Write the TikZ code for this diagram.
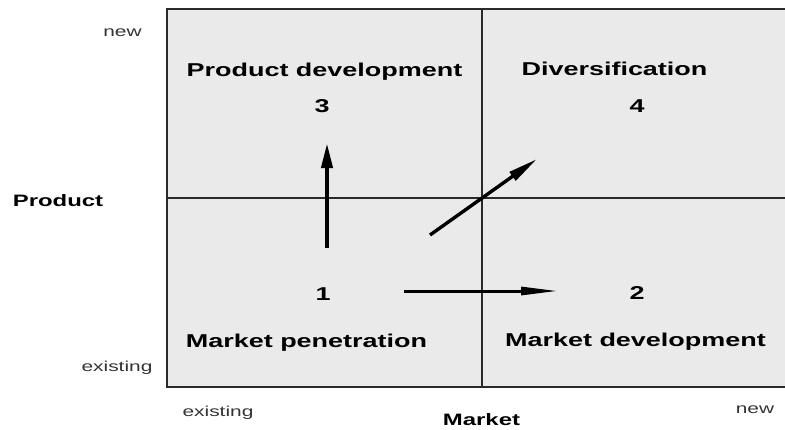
\documentclass[tikz,border=0pt]{standalone}
\usepackage{fontspec}
\setmainfont{Liberation Sans}
\newfontfamily\wf[FakeStretch=1.45]{Liberation Sans}
\usetikzlibrary{arrows.meta}
\definecolor{quad}{HTML}{EAEAEA}
\definecolor{linec}{HTML}{2A2A2A}
\begin{document}
\begin{tikzpicture}[x=1pt,y=-1pt,
  big/.style={font=\wf\bfseries\fontsize{18.6}{20}\selectfont, inner sep=0pt, anchor=base, text=black},
  mid/.style={font=\wf\bfseries\fontsize{16.5}{18}\selectfont, inner sep=0pt, anchor=base, text=black},
  small/.style={font=\wf\fontsize{14.4}{16}\selectfont, inner sep=0pt, anchor=base, text=black!80},
  gridline/.style={draw=linec, line width=1.4pt},
  shaft/.style={line width=3.4pt, draw=black}]
\useasboundingbox (0,0) rectangle (785,429);
\fill[white] (0,0) rectangle (785,429);
% grid
\fill[quad] (167,9) rectangle (790,387);
\draw[gridline, line width=1.8pt] (790,9) -- (167,9) -- (167,387) -- (790,387);
\draw[gridline] (482,9) -- (482,387);
\draw[gridline] (167,198) -- (790,198);
% quadrant labels
\node[big] (pd) at (324.5,76) {Product development};
\node[big] (n3) at (322,112) {3};
\node[big] (dv) at (614.5,75) {Diversification};
\node[big] (n4) at (637,112) {4};
\node[big] (n1) at (323,300) {1};
\node[big] (mp) at (306.5,347) {Market penetration};
\node[big] (n2) at (637,299) {2};
\node[big] (md) at (635.5,346) {Market development};
% axis labels
\node[small] (pnew) at (122.5,36) {new};
\node[mid] (prod) at (58,206) {Product};
\node[small] (pex) at (117,371) {existing};
\node[small] (mex) at (218,416) {existing};
\node[mid] (mkt) at (481.5,425.5) {Market};
\node[small] (mnew) at (755,413) {new};
% arrows
\coordinate (a1) at (327,248);
\coordinate (a2) at (327,143);
\coordinate (b1) at (430,235);
\coordinate (b2) at (537,159);
\coordinate (c1) at (404,291);
\coordinate (c2) at (558,291);
\draw[shaft, line width=4pt, -{Triangle[length=25pt,width=11pt]}] (a1) -- (a2);
\draw[shaft, -{Triangle[length=30pt,width=10pt]}] (b1) -- (b2);
\draw[shaft, line width=3pt, -{Triangle[length=37pt,width=8pt]}] (c1) -- (c2);
\end{tikzpicture}
\end{document}
